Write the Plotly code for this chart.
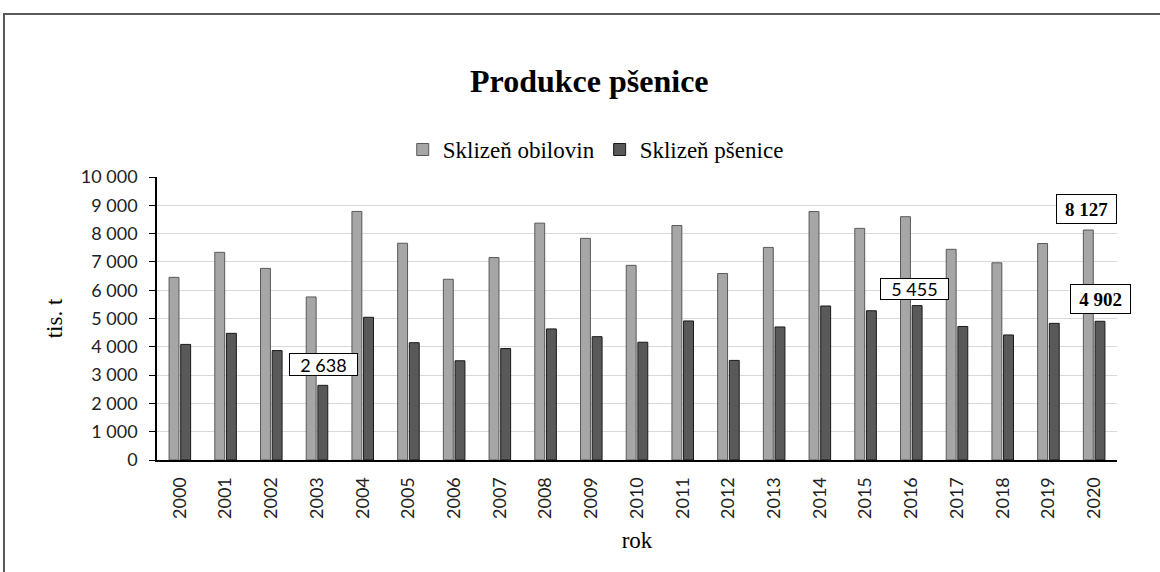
import plotly.graph_objects as go

# Sklizeň obilovin a pšenice v ČR (tis. t)
roky = [str(r) for r in range(2000, 2021)]
obiloviny = [6454, 7338, 6771, 5762, 8784, 7660, 6386, 7153, 8370, 7832, 6878,
             8285, 6588, 7512, 8779, 8184, 8597, 7445, 6968, 7650, 8127]
psenice = [4084, 4476, 3866, 2638, 5043, 4145, 3506, 3939, 4632, 4358, 4162,
           4913, 3519, 4701, 5442, 5274, 5455, 4718, 4418, 4828, 4902]

SERIF = "Liberation Serif"
SANS = "Lato"

fig = go.Figure()
fig.add_trace(go.Bar(
    name="Sklizeň obilovin", x=roky, y=obiloviny,
    marker=dict(color="#A6A6A6", line=dict(color="#595959", width=1)),
))
fig.add_trace(go.Bar(
    name="Sklizeň pšenice", x=roky, y=psenice,
    marker=dict(color="#595959", line=dict(color="#1a1a1a", width=1)),
))


def fmt(v):
    return f"{v:,}".replace(",", " ")


def popisek(rok, hodnota, dx, dy, tucne, w, h):
    text = fmt(hodnota)
    if tucne:
        text = f"<b>{text}</b>"
    # na kategoriové ose se poloha popisku zadává pořadím kategorie
    fig.add_annotation(
        x=roky.index(rok), y=hodnota, text=text, showarrow=False,
        xshift=dx, yshift=dy, width=w, height=h,
        font=dict(family=SERIF if tucne else SANS, size=19 if tucne else 18,
                  color="black"),
        bgcolor="white", bordercolor="black", borderwidth=1, borderpad=1,
    )


popisek("2003", psenice[roky.index("2003")], 6, 21, False, 65, 19)
popisek("2016", psenice[roky.index("2016")], 3, 17, False, 65, 18)
popisek("2020", obiloviny[roky.index("2020")], -8, 21, True, 57, 26)
popisek("2020", psenice[roky.index("2020")], 6, 22, True, 57, 26)

# rámeček grafu
fig.add_shape(type="rect", xref="paper", yref="paper",
              x0=-0.1594, y0=-0.45, x1=1.06, y1=1.576,
              line=dict(color="#595959", width=2), fillcolor="rgba(0,0,0,0)",
              layer="below")

fig.update_layout(
    width=1160, height=572,
    margin=dict(l=157, r=43, t=177, b=112),
    paper_bgcolor="white", plot_bgcolor="white",
    separators=", ",
    barmode="group", bargap=0.49, bargroupgap=0.15,
    title=dict(text="<b>Produkce pšenice</b>", x=0.508, y=0.858,
               xanchor="center", yanchor="middle",
               font=dict(family=SERIF, size=32, color="black")),
    legend=dict(orientation="h", x=0.457, y=1.097, xanchor="center",
                yanchor="middle", font=dict(family=SERIF, size=23, color="black"),
                itemwidth=30, traceorder="normal"),
    font=dict(family=SANS, color="black"),
)

fig.update_yaxes(
    range=[0, 10000], dtick=1000, tickformat=",d",
    showgrid=True, gridcolor="#D9D9D9", gridwidth=1,
    showline=True, linecolor="black", linewidth=1.5,
    ticks="outside", ticklen=6, tickcolor="black",
    ticklabelstandoff=8,
    tickfont=dict(family=SANS, size=18, color="#222"),
    zeroline=False,
    title=dict(text="tis. t", font=dict(family=SERIF, size=23, color="black"),
               standoff=12),
)
fig.update_xaxes(
    type="category", range=[-0.5, len(roky) - 0.5], tickangle=-90,
    showline=True, linecolor="black", linewidth=2,
    ticks="", ticklabelstandoff=8,
    tickfont=dict(family=SANS, size=18, color="#222"),
    title=dict(text="rok", font=dict(family=SERIF, size=23, color="black"),
               standoff=14),
)

fig.write_html("out.html")
